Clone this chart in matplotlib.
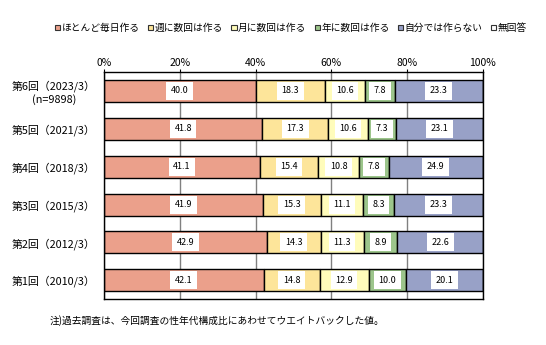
import matplotlib.pyplot as plt
from matplotlib.patches import Patch
import numpy as np

plt.rcParams['font.family'] = ['Noto Sans CJK JP', 'DejaVu Sans']

rounds = ["第6回（2023/3）\n(n=9898)", "第5回（2021/3）", "第4回（2018/3）",
          "第3回（2015/3）", "第2回（2012/3）", "第1回（2010/3）"]
series = ["ほとんど毎日作る", "週に数回は作る", "月に数回は作る",
          "年に数回は作る", "自分では作らない", "無回答"]

everyday = [40.0, 41.8, 41.1, 41.9, 42.9, 42.1]
weekly = [18.3, 17.3, 15.4, 15.3, 14.3, 14.8]
monthly = [10.6, 10.6, 10.8, 11.1, 11.3, 12.9]
yearly = [7.8, 7.3, 7.8, 8.3, 8.9, 10.0]
never = [23.3, 23.1, 24.9, 23.3, 22.6, 20.1]
no_answer = [0, 0, 0, 0, 0, 0]

colors = ["#EBA08B", "#FDE59A", "#FFFCBB", "#9CC58B", "#98A1C7", "#FFFFFF"]
values = [everyday, weekly, monthly, yearly, never, no_answer]

fig = plt.figure(figsize=(5.46, 3.45), dpi=100)
ax = fig.add_axes([0.1905, 0.1325, 0.694, 0.659])

y = np.arange(len(rounds))
left = np.zeros(len(rounds))
for vals, col in zip(values, colors):
    vals = np.array(vals)
    ax.barh(y, vals, left=left, height=0.58, color=col, edgecolor="black",
            linewidth=1, zorder=2)
    for yi, (l, v) in enumerate(zip(left, vals)):
        if v > 0:
            ax.text(l + v / 2, yi, f"{v:.1f}", ha="center", va="center",
                    fontsize=6.5, zorder=3,
                    bbox=dict(facecolor="white", edgecolor="none",
                              boxstyle="square,pad=0.5"))
    left += vals

ax.set_xlim(0, 100)
ax.set_ylim(len(rounds) - 0.5, -0.5)
ax.set_xticks([0, 20, 40, 60, 80, 100])
ax.set_xticklabels(["0%", "20%", "40%", "60%", "80%", "100%"], fontsize=7.5)
ax.xaxis.tick_top()
ax.tick_params(axis="x", direction="out", length=2, pad=1)
ax.set_yticks(y)
ax.set_yticklabels(rounds, fontsize=7.8, multialignment="center")
ax.tick_params(axis="y", length=0, pad=6)
ax.grid(axis="x", color="#808080", linewidth=1, zorder=0)
ax.set_axisbelow(True)
for s in ax.spines.values():
    s.set_color("black")
    s.set_linewidth(1)

handles = [Patch(facecolor=c, edgecolor="#333333", linewidth=0.8) for c in colors]
fig.legend(handles, series, loc="center", bbox_to_anchor=(0.533, 0.919), ncol=6,
           frameon=False, fontsize=7, handlelength=0.55, handleheight=0.55,
           handletextpad=0.15, columnspacing=0.85)

fig.text(0.09, 0.072, "注)過去調査は、今回調査の性年代構成比にあわせてウエイトバックした値。",
         fontsize=7, va="center", ha="left")

fig.savefig("out.png", dpi=100)
